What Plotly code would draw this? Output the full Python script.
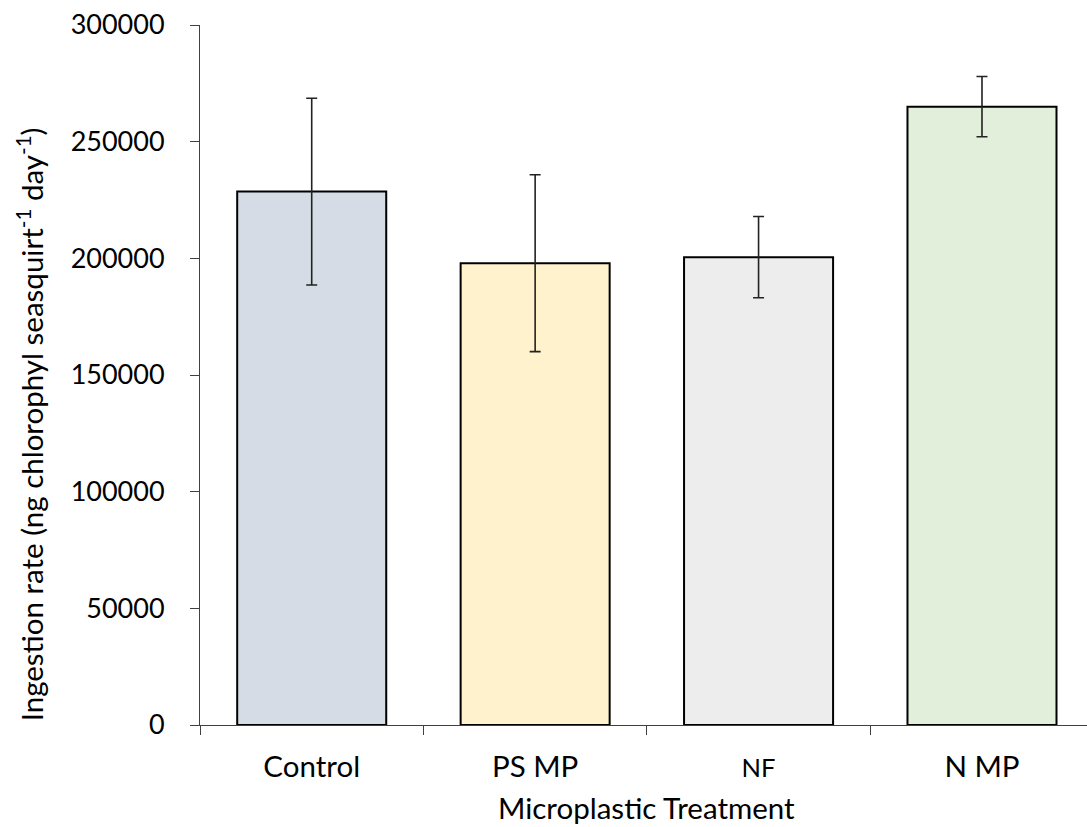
import plotly.graph_objects as go

# Mean ingestion rate and standard error per treatment
treatments = ["Control", "PS MP", "NF", "N MP"]
ingestion_rate = [228600, 197900, 200500, 265000]
std_error = [40000, 37900, 17400, 12900]
bar_colors = ["#D6DCE5", "#FFF2CC", "#EDEDED", "#E2EFDA"]
# NF label is set slightly smaller than the other category labels
label_sizes = [29.5, 29.5, 25.5, 29.5]

y_ticks = [0, 50000, 100000, 150000, 200000, 250000, 300000]
y_title = "Ingestion rate (ng chlorophyl seasquirt<sup>-1</sup> day<sup>-1</sup>)"
x_title = "Microplastic Treatment"

FONT = "Lato, 'Open Sans', sans-serif"

fig = go.Figure(
    go.Bar(
        x=treatments,
        y=ingestion_rate,
        marker=dict(color=bar_colors, line=dict(color="#000000", width=2)),
        error_y=dict(type="data", array=std_error, visible=True,
                     color="#222222", thickness=1.6, width=5.5),
        width=0.667,
    )
)

fig.update_layout(
    width=1087,
    height=827,
    margin=dict(l=200, r=0, t=25, b=102),
    paper_bgcolor="white",
    plot_bgcolor="white",
    showlegend=False,
    font=dict(family=FONT, size=27, color="#000000"),
)

fig.update_xaxes(
    type="category",
    range=[-0.5, 3.47],
    tickson="boundaries",
    tickmode="array",
    tickvals=treatments,
    ticktext=[f'<span style="font-size:{s}px">{t}</span>'
              for t, s in zip(treatments, label_sizes)],
    ticks="outside",
    ticklen=9,
    tickwidth=1,
    tickcolor="#404040",
    showline=True,
    linecolor="#404040",
    linewidth=1,
    showgrid=False,
    ticklabelstandoff=16,
    tickfont=dict(size=29.5),
)

fig.update_yaxes(
    range=[0, 300000],
    tickvals=y_ticks,
    ticktext=[str(v) for v in y_ticks],
    ticks="outside",
    ticklen=9,
    tickwidth=1,
    tickcolor="#404040",
    showline=True,
    linecolor="#404040",
    linewidth=1,
    showgrid=False,
    zeroline=False,
    ticklabelstandoff=20,
    tickfont=dict(size=27),
)

# Axis titles
fig.add_annotation(
    text=y_title, xref="paper", yref="paper",
    x=-170 / 887, y=(725.3 - 424.5) / 700.3,
    textangle=-90, showarrow=False, xanchor="center", yanchor="middle",
    font=dict(size=29.5),
)
fig.add_annotation(
    text=x_title, xref="paper", yref="paper",
    x=(646 - 200) / 887, y=-(808 - 725.3) / 700.3,
    showarrow=False, xanchor="center", yanchor="middle",
    font=dict(size=29.5),
)

fig.write_html("out.html")
